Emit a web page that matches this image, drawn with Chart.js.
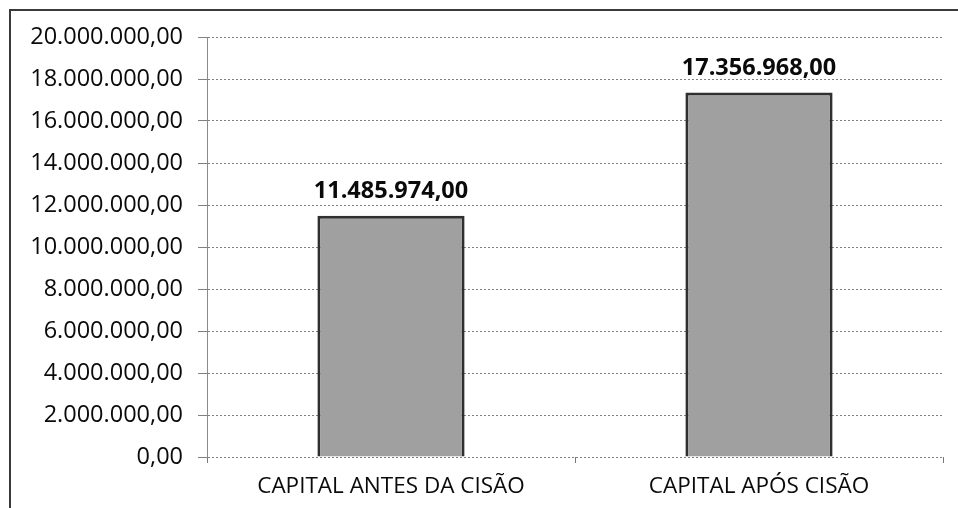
<!DOCTYPE html>
<html>
<head>
<meta charset="utf-8">
<script src="https://cdn.jsdelivr.net/npm/chart.js@4/dist/chart.umd.min.js"></script>
<style>
  html, body { margin: 0; padding: 0; background: #fff; }
  #wrap { position: relative; width: 958px; height: 508px; }
  #frame { position: absolute; left: 9px; top: 9px; right: 0; bottom: -4px;
           border-left: 2px solid #3a3a3a; border-top: 2px solid #3a3a3a; pointer-events: none; }
  canvas { display: block; }
</style>
</head>
<body>
<div id="wrap">
  <canvas id="chart" width="958" height="508"></canvas>
  <div id="frame"></div>
</div>
<script>
// Capital social antes e depois da cisão (R$)
const categories = ['CAPITAL ANTES DA CISÃO', 'CAPITAL APÓS CISÃO'];
const capitalValues = [11485974.00, 17356968.00];
const axisMin = 0;
const axisMax = 20000000;
const axisStep = 2000000;

// Brazilian number format: 1.234.567,89
function formatBR(v) {
  const fixed = Math.abs(v).toFixed(2);
  const [intPart, dec] = fixed.split('.');
  const grouped = intPart.replace(/\B(?=(\d{3})+(?!\d))/g, '.');
  return (v < 0 ? '-' : '') + grouped + ',' + dec;
}

// Writes each bar's value above it
const valueLabels = {
  id: 'valueLabels',
  afterDatasetsDraw(chart) {
    const ctx = chart.ctx;
    const meta = chart.getDatasetMeta(0);
    const data = chart.data.datasets[0].data;
    ctx.save();
    ctx.font = 'bold 23.5px "Open Sans"';
    ctx.fillStyle = '#0a0a0a';
    ctx.textAlign = 'center';
    ctx.textBaseline = 'alphabetic';
    meta.data.forEach((bar, i) => {
      ctx.fillText(formatBR(data[i]), bar.x, bar.y - 18);
    });
    ctx.restore();
  }
};

new Chart(document.getElementById('chart'), {
  type: 'bar',
  data: {
    labels: categories,
    datasets: [{
      data: capitalValues,
      backgroundColor: '#a0a0a0',
      borderColor: '#303030',
      borderWidth: 3,
      barPercentage: 0.4,
      categoryPercentage: 1.0
    }]
  },
  options: {
    responsive: false,
    animation: false,
    layout: { padding: { top: 37, right: 15, bottom: 0, left: 0 } },
    plugins: {
      legend: { display: false },
      tooltip: { enabled: false }
    },
    scales: {
      x: {
        afterFit(scale) { scale.height = 51; },
        grid: {
          drawOnChartArea: false,
          drawTicks: true,
          tickLength: 6,
          color: '#777'
        },
        border: { display: false },
        ticks: {
          color: '#0a0a0a',
          font: { family: '"Open Sans"', size: 22.5 },
          padding: 10
        }
      },
      y: {
        min: axisMin,
        max: axisMax,
        afterFit(scale) { scale.width = 207; },
        grid: {
          color: '#808080',
          lineWidth: 1,
          tickLength: 9,
          drawTicks: true
        },
        border: { display: true, color: '#8a8a8a', dash: [2, 2] },
        ticks: {
          stepSize: axisStep,
          color: '#0a0a0a',
          font: { family: '"Open Sans"', size: 23.5 },
          padding: 15,
          callback: (v) => formatBR(v)
        }
      }
    }
  },
  plugins: [valueLabels]
});
</script>
</body>
</html>
